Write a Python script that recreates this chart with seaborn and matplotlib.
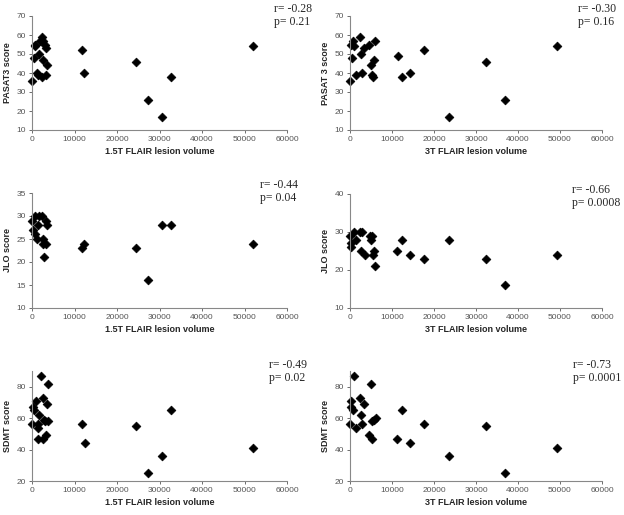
import pandas as pd
import seaborn as sns
import matplotlib.pyplot as plt

# ------------------------ DATA ------------------------

# PASAT3 vs 1.5T
vol15_pasat = [0, 400, 600, 800, 1200, 1300, 1600, 1800, 2300, 2500, 2600, 2400,
               3000, 3300, 3500, 3400, 11800, 12200, 24400, 27400, 30700, 32700, 52000]
pasat_15 = [36, 48, 55, 54, 40, 39, 50, 57, 59, 57, 47, 38,
            55, 53, 44, 39, 52, 40, 46, 26, 17, 38, 54]

# PASAT 3 vs 3T
vol3_pasat = [0, 400, 250, 800, 900, 1350, 2300, 2500, 2800, 3400, 4500, 5100,
              5300, 5500, 5800, 5900, 11500, 12400, 14200, 17600, 23500, 32400, 37000, 49400]
pasat_3 = [36, 48, 55, 57, 54, 39, 59, 50, 40, 53, 55, 44,
           39, 38, 47, 57, 49, 38, 40, 52, 17, 46, 26, 54]

# JLO vs 1.5T
vol15_jlo = [0, 300, 700, 1200, 600, 1700, 2300, 1300, 2600, 2600, 2800, 3400,
             3500, 3400, 11700, 12200, 24400, 27400, 30700, 32700, 52000]
jlo_15 = [29, 27, 26, 25, 30, 30, 30, 28, 25, 24, 21, 29,
          28, 24, 23, 24, 23, 16, 28, 28, 24]

# JLO vs 3T
vol3_jlo = [0, 250, 250, 900, 1350, 2300, 2900, 2500, 3500, 4700, 5100, 5300,
            5500, 5800, 5900, 11300, 12400, 14200, 17600, 23500, 32400, 37000, 49400]
jlo_3 = [29, 27, 26, 30, 28, 30, 30, 25, 24, 29, 28, 29,
         24, 25, 21, 25, 28, 24, 23, 28, 23, 16, 24]

# SDMT vs 1.5T
vol15_sdmt = [0, 300, 500, 900, 1300, 1400, 1400, 1700, 2100, 2600, 2800, 3000,
              2600, 3200, 3600, 3700, 3700, 11800, 12400, 24400, 27400, 30700, 32700, 52000]
sdmt_15 = [56, 67, 65, 71, 56, 54, 47, 62, 87, 73, 59, 58.5,
           47, 49, 69, 58, 82, 56, 44, 55, 25, 36, 65, 41]

# SDMT vs 3T
vol3_sdmt = [0, 250, 250, 700, 900, 1350, 2300, 2500, 2800, 3400, 4500, 5100,
             5300, 5300, 5800, 6100, 11300, 12400, 14200, 17600, 23500, 32400, 37000, 49400]
sdmt_3 = [56, 71, 67, 65, 87, 54, 73, 62, 56, 69, 49, 82,
          47, 58, 59, 60, 47, 65, 44, 56, 36, 55, 25, 41]

panels = [
    (vol15_pasat, pasat_15, "1.5T FLAIR lesion volume", "PASAT3 score", (10, 70), [10, 20, 30, 40, 50, 60, 70], ("r= -0.28", "p= 0.21")),
    (vol3_pasat, pasat_3, "3T FLAIR lesion volume", "PASAT 3 score", (10, 70), [10, 20, 30, 40, 50, 60, 70], ("r= -0.30", "p= 0.16")),
    (vol15_jlo, jlo_15, "1.5T FLAIR lesion volume", "JLO score", (10, 35), [10, 15, 20, 25, 30, 35], ("r= -0.44", "p= 0.04")),
    (vol3_jlo, jlo_3, "3T FLAIR lesion volume", "JLO score", (10, 40), [10, 20, 30, 40], ("r= -0.66", "p= 0.0008")),
    (vol15_sdmt, sdmt_15, "1.5T FLAIR lesion volume", "SDMT score", (20, 90), [20, 40, 60, 80], ("r= -0.49", "p= 0.02")),
    (vol3_sdmt, sdmt_3, "3T FLAIR lesion volume", "SDMT score", (20, 90), [20, 40, 60, 80], ("r= -0.73", "p= 0.0001")),
]

# pixel boxes (left, top, right, bottom) and annotation anchor (x, y)
W, H = 624, 515
boxes = [
    (32, 16, 287, 130), (350, 16, 602, 130),
    (32, 193, 287, 308), (350, 194, 602, 308),
    (32, 371, 287, 481), (350, 371, 602, 481),
]
notes = [(274, 3), (578, 3), (260, 179), (572, 184), (269, 359), (573, 359)]

# ------------------------ PLOT ------------------------

sns.set_style("ticks")
plt.rcParams["font.family"] = ["Liberation Sans", "DejaVu Sans"]

fig = plt.figure(figsize=(W / 100, H / 100), dpi=100)

for (x, y, xl, yl, ylim, yticks, note), box, pos in zip(panels, boxes, notes):
    l, t, r, b = box
    ax = fig.add_axes([l / W, (H - b) / H, (r - l) / W, (b - t) / H])
    df = pd.DataFrame({"vol": x, "score": y})
    sns.scatterplot(data=df, x="vol", y="score", marker="D", color="black",
                    s=20, edgecolor="black", linewidth=0.5, ax=ax, clip_on=False)
    ax.set_xlim(0, 60000)
    ax.set_xticks(range(0, 60001, 10000))
    ax.set_ylim(*ylim)
    ax.set_yticks(yticks)
    ax.set_xlabel(xl, fontsize=6.5, fontweight="bold", labelpad=3)
    ax.set_ylabel(yl, fontsize=6.5, fontweight="bold", labelpad=3)
    ax.tick_params(labelsize=6, colors="#555555", length=2.5, width=0.6, pad=2)
    for s in ("left", "bottom"):
        ax.spines[s].set_color("#888888")
        ax.spines[s].set_linewidth(0.8)
    sns.despine(ax=ax)

    fig.text(pos[0] / W, 1 - pos[1] / H, note[0] + "\n" + note[1],
             fontsize=8.5, family=["Liberation Serif", "DejaVu Serif"],
             va="top", ha="left", linespacing=1.1)

fig.savefig("out.png", dpi=100)
